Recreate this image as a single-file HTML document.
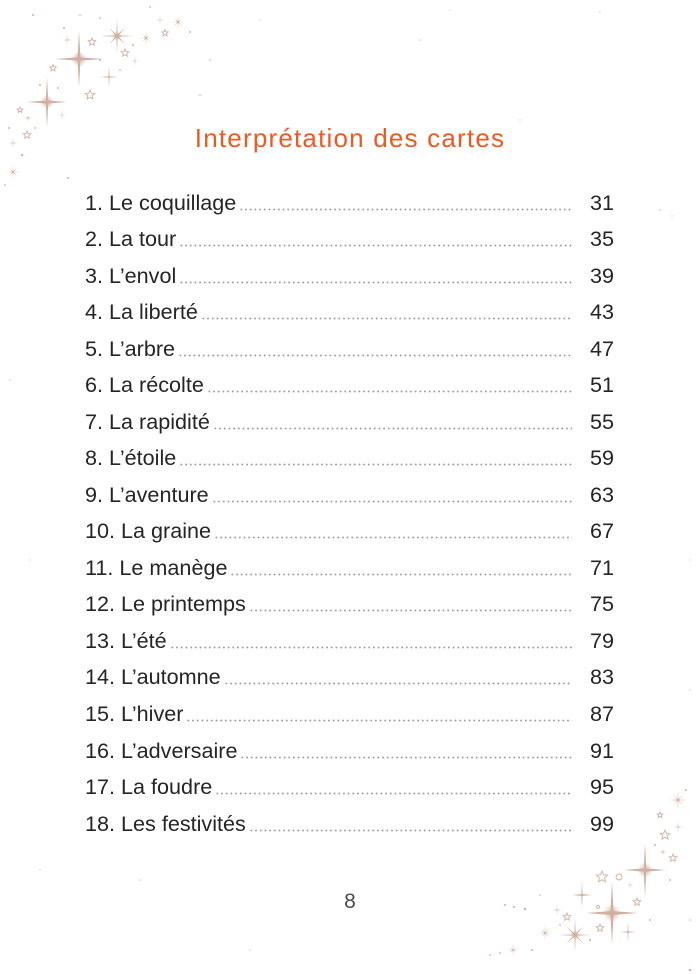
<!DOCTYPE html>
<html>
<head>
<meta charset="utf-8">
<style>
  html,body{margin:0;padding:0;background:#fff;}
  body{width:700px;height:974px;position:relative;overflow:hidden;font-family:"Liberation Sans",sans-serif;}
  .title{position:absolute;left:0;width:700px;top:122px;line-height:32px;text-align:center;font-size:26px;letter-spacing:1.2px;color:#ec5a24;}
  .row{position:absolute;left:85px;width:529px;height:26px;line-height:26px;display:flex;font-size:21.6px;color:#262424;}
  .row .t{white-space:nowrap;}
  .row .d{flex:1;height:26px;margin-left:3px;background-image:radial-gradient(circle,#999 0.7px,rgba(255,255,255,0) 1.15px);background-repeat:repeat-x;background-size:4.7px 3px;background-position:0 18px;}
  .row .n{width:42px;text-align:right;white-space:nowrap;}
  .pg{position:absolute;left:0;width:700px;top:889px;line-height:26px;text-align:center;font-size:21px;color:#4a4a4a;}
  svg{position:absolute;left:0;top:0;}
</style>
</head>
<body>
<svg width="700" height="974" viewBox="0 0 700 974">
  <defs>
    <path id="s4" d="M0,-1 L0.06,-0.06 L1,0 L0.06,0.06 L0,1 L-0.06,0.06 L-1,0 L-0.06,-0.06Z"/>
    <path id="s8" d="M0,-1 L0.038,-0.092 L0.5,-0.5 L0.092,-0.038 L1,0 L0.092,0.038 L0.5,0.5 L0.038,0.092 L0,1 L-0.038,0.092 L-0.5,0.5 L-0.092,0.038 L-1,0 L-0.092,-0.038 L-0.5,-0.5 L-0.038,-0.092Z"/>
    <path id="s5" d="M0,-1 L0.265,-0.364 L0.951,-0.309 L0.428,0.139 L0.588,0.809 L0,0.45 L-0.588,0.809 L-0.428,0.139 L-0.951,-0.309 L-0.265,-0.364Z"/>
    <radialGradient id="glow">
      <stop offset="0" stop-color="#cfae9f" stop-opacity="0.9"/>
      <stop offset="1" stop-color="#cfae9f" stop-opacity="0"/>
    </radialGradient>
  </defs>
  <g fill="#d0b0a2">
    <!-- top-left cluster -->
    <circle cx="79" cy="59" r="8" fill="url(#glow)"/>
    <use href="#s4" transform="translate(79,59) scale(24,28)"/>
    <circle cx="47" cy="102" r="7" fill="url(#glow)"/>
    <use href="#s4" transform="translate(47,102) scale(20,25)"/>
    <circle cx="117" cy="36" r="5" fill="url(#glow)"/>
    <use href="#s8" transform="translate(117,36) scale(17)"/>
    <use href="#s8" transform="translate(146,38) scale(8)"/>
    <use href="#s8" transform="translate(178,22) scale(8)"/>
    <use href="#s4" transform="translate(109,77) scale(9,11)"/>
    <use href="#s8" transform="translate(13,172) scale(8)"/>
    <use href="#s8" transform="translate(28,118) scale(5)"/>
    <use href="#s4" transform="translate(62,115) scale(5,5)"/>
    <use href="#s4" transform="translate(13,143) scale(5,6)"/>
    <use href="#s4" transform="translate(67,40) scale(5,6)"/>
    <use href="#s4" transform="translate(135,61) scale(5,5)"/>
    <use href="#s4" transform="translate(160,20) scale(5,4)"/>
    <g fill="none" stroke="#d0b0a2">
      <use href="#s5" stroke-width="0.18" transform="translate(90,95) scale(5)"/>
      <use href="#s5" stroke-width="0.22" transform="translate(92,42) scale(4)"/>
      <use href="#s5" stroke-width="0.25" transform="translate(53,68) scale(3.5)"/>
      <use href="#s5" stroke-width="0.22" transform="translate(27,135) scale(4)"/>
      <use href="#s5" stroke-width="0.22" transform="translate(125,53) scale(4)"/>
      <use href="#s5" stroke-width="0.25" transform="translate(165,33) scale(3.5)"/>
      <use href="#s5" stroke-width="0.3" transform="translate(20,110) scale(3)"/>
    </g>
    <circle cx="33" cy="15" r="1"/><circle cx="64" cy="28" r="1"/><circle cx="100" cy="18" r="0.9"/>
    <circle cx="150" cy="7" r="0.9"/><circle cx="190" cy="32" r="1"/><circle cx="210" cy="60" r="0.8"/>
    <circle cx="22" cy="155" r="1.2"/><circle cx="9" cy="128" r="1"/><circle cx="40" cy="85" r="1"/>
    <circle cx="68" cy="178" r="1"/><circle cx="58" cy="88" r="1"/><circle cx="100" cy="60" r="1"/>
    <circle cx="133" cy="45" r="1"/><circle cx="120" cy="70" r="0.9"/><circle cx="5" cy="185" r="0.9"/>
    <circle cx="35" cy="128" r="0.9"/><circle cx="80" cy="15" r="0.8"/><circle cx="200" cy="95" r="0.8"/>
    <!-- bottom-right cluster -->
    <circle cx="612" cy="913" r="9" fill="url(#glow)"/>
    <use href="#s4" transform="translate(612,913) scale(26,31)"/>
    <circle cx="645" cy="870" r="8" fill="url(#glow)"/>
    <use href="#s4" transform="translate(645,870) scale(21,27)"/>
    <circle cx="575" cy="935" r="5" fill="url(#glow)"/>
    <use href="#s8" transform="translate(575,935) scale(17)"/>
    <use href="#s8" transform="translate(678,800) scale(10)"/>
    <use href="#s8" transform="translate(545,933) scale(8)"/>
    <use href="#s8" transform="translate(513,950) scale(7)"/>
    <use href="#s4" transform="translate(582,895) scale(10,14)"/>
    <use href="#s4" transform="translate(628,932) scale(8,10)"/>
    <use href="#s4" transform="translate(678,827) scale(5,6)"/>
    <use href="#s8" transform="translate(663,852) scale(5)"/>
    <use href="#s4" transform="translate(557,910) scale(5,6)"/>
    <use href="#s4" transform="translate(630,885) scale(4,5)"/>
    <g fill="none" stroke="#d0b0a2">
      <use href="#s5" stroke-width="0.15" transform="translate(602,877) scale(6)"/>
      <use href="#s5" stroke-width="0.18" transform="translate(665,835) scale(5)"/>
      <use href="#s5" stroke-width="0.22" transform="translate(637,902) scale(4)"/>
      <use href="#s5" stroke-width="0.22" transform="translate(600,928) scale(4)"/>
      <use href="#s5" stroke-width="0.22" transform="translate(673,858) scale(4)"/>
      <use href="#s5" stroke-width="0.22" transform="translate(567,917) scale(4)"/>
      <use href="#s5" stroke-width="0.3" transform="translate(660,815) scale(3)"/>
      <circle cx="619" cy="877" r="3" stroke-width="0.9"/>
      <circle cx="598" cy="907" r="1.5" stroke-width="0.9"/>
    </g>
    <circle cx="505" cy="905" r="1"/><circle cx="514" cy="907" r="1"/><circle cx="525" cy="909" r="1.2"/>
    <circle cx="490" cy="955" r="0.9"/><circle cx="500" cy="953" r="0.9"/><circle cx="532" cy="950" r="1"/>
    <circle cx="590" cy="940" r="1"/><circle cx="560" cy="925" r="0.9"/><circle cx="650" cy="920" r="1"/>
    <circle cx="690" cy="970" r="1.2"/><circle cx="686" cy="790" r="1"/><circle cx="670" cy="880" r="1"/>
    <circle cx="655" cy="845" r="1"/><circle cx="690" cy="920" r="0.8"/><circle cx="540" cy="895" r="0.8"/>
  </g>
  <!-- faint background speckles -->
  <g fill="#cfcfcf">
    <circle cx="420" cy="40" r="0.8"/><circle cx="600" cy="12" r="0.8"/><circle cx="660" cy="210" r="0.9"/>
    <circle cx="672" cy="216" r="0.8"/><circle cx="520" cy="120" r="0.7"/><circle cx="30" cy="560" r="0.8"/>
    <circle cx="10" cy="380" r="0.8"/><circle cx="690" cy="560" r="0.8"/><circle cx="40" cy="870" r="0.8"/>
    <circle cx="250" cy="950" r="0.8"/><circle cx="140" cy="880" r="0.8"/><circle cx="690" cy="690" r="0.8"/>
    <circle cx="450" cy="10" r="0.7"/><circle cx="260" cy="20" r="0.7"/>
  </g>
</svg>

<div class="title">Interprétation des cartes</div>

<div class="row" style="top:189.5px"><span class="t">1. Le coquillage</span><span class="d"></span><span class="n">31</span></div>
<div class="row" style="top:226.0px"><span class="t">2. La tour</span><span class="d"></span><span class="n">35</span></div>
<div class="row" style="top:262.6px"><span class="t">3. L’envol</span><span class="d"></span><span class="n">39</span></div>
<div class="row" style="top:299.1px"><span class="t">4. La liberté</span><span class="d"></span><span class="n">43</span></div>
<div class="row" style="top:335.6px"><span class="t">5. L’arbre</span><span class="d"></span><span class="n">47</span></div>
<div class="row" style="top:372.2px"><span class="t">6. La récolte</span><span class="d"></span><span class="n">51</span></div>
<div class="row" style="top:408.7px"><span class="t">7. La rapidité</span><span class="d"></span><span class="n">55</span></div>
<div class="row" style="top:445.2px"><span class="t">8. L’étoile</span><span class="d"></span><span class="n">59</span></div>
<div class="row" style="top:481.7px"><span class="t">9. L’aventure</span><span class="d"></span><span class="n">63</span></div>
<div class="row" style="top:518.3px"><span class="t">10. La graine</span><span class="d"></span><span class="n">67</span></div>
<div class="row" style="top:554.8px"><span class="t">11. Le manège</span><span class="d"></span><span class="n">71</span></div>
<div class="row" style="top:591.3px"><span class="t">12. Le printemps</span><span class="d"></span><span class="n">75</span></div>
<div class="row" style="top:627.9px"><span class="t">13. L’été</span><span class="d"></span><span class="n">79</span></div>
<div class="row" style="top:664.4px"><span class="t">14. L’automne</span><span class="d"></span><span class="n">83</span></div>
<div class="row" style="top:700.9px"><span class="t">15. L’hiver</span><span class="d"></span><span class="n">87</span></div>
<div class="row" style="top:737.5px"><span class="t">16. L’adversaire</span><span class="d"></span><span class="n">91</span></div>
<div class="row" style="top:774.0px"><span class="t">17. La foudre</span><span class="d"></span><span class="n">95</span></div>
<div class="row" style="top:810.5px"><span class="t">18. Les festivités</span><span class="d"></span><span class="n">99</span></div>

<div class="pg">8</div>
</body>
</html>
